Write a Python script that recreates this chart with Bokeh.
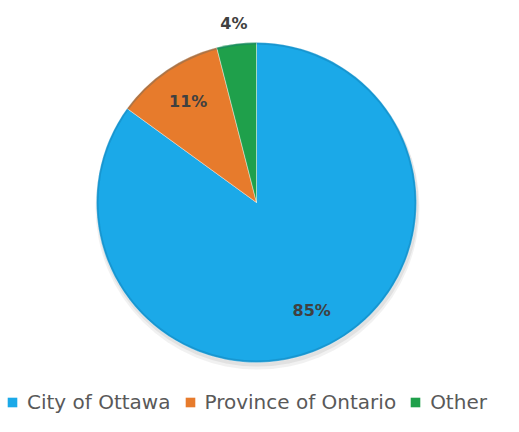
import math
from bokeh.plotting import figure
from bokeh.models import Range1d, ColumnDataSource, Legend, LegendItem
from bokeh.core.properties import value
from bokeh.embed import file_html
from bokeh.resources import INLINE

categories = ["City of Ottawa", "Province of Ontario", "Other"]
shares = [85, 11, 4]
labels = ["85%", "11%", "4%"]
colors = ["#1ba9e8", "#e77b2c", "#1fa04b"]

W, H = 503, 416
p = figure(width=W, height=H, output_backend="svg", toolbar_location=None,
           x_range=Range1d(0, W), y_range=Range1d(0, H), min_border=0,
           outline_line_color=None, background_fill_color="white")
p.axis.visible = False
p.grid.visible = False

cx, cy, R = 256, 214, 160

total = sum(shares)
starts, ends, lx, ly = [], [], [], []
a = math.pi / 2
for s in shares:
    sweep = 2 * math.pi * s / total
    starts.append(a)
    ends.append(a - sweep)
    mid = a - sweep / 2
    rf = 0.76 if s >= 5 else 1.13
    lx.append(cx + rf * R * math.cos(mid))
    ly.append(cy + rf * R * math.sin(mid))
    a -= sweep

src = ColumnDataSource(dict(cat=categories, start=starts, end=ends, color=colors,
                            lab=labels, lx=lx, ly=ly))

# soft shadow
p.circle(x=[cx + 1], y=[cy - 5], radius=R + 2, fill_color="#888888", fill_alpha=0.12, line_color=None)
p.circle(x=[cx + 1], y=[cy - 3], radius=R + 1, fill_color="#777777", fill_alpha=0.12, line_color=None)

wr = p.wedge(x=cx, y=cy, radius=R, start_angle="start", end_angle="end", direction="clock",
             fill_color="color", line_color="white", line_width=0.8, line_alpha=0.5, source=src)

# bevel rim
p.circle(x=[cx], y=[cy], radius=R - 1, fill_color=None, line_color="#0b5f8a",
         line_width=2, line_alpha=0.25)

p.text(x="lx", y="ly", text="lab", source=src, text_align="center", text_baseline="middle",
       text_font=value("DejaVu Sans"), text_font_size="16px", text_font_style="bold",
       text_color="#404040")

# legend swatches: zero-area quads (invisible in the plot) so the swatch fills the glyph box
items = []
for c, col in zip(categories, colors):
    q = p.quad(left=[cx], right=[cx], top=[cy], bottom=[cy], fill_color=col, line_color=None)
    items.append(LegendItem(label=c, renderers=[q]))

legend = Legend(items=items, orientation="horizontal", location=(6, 2),
                label_text_font="DejaVu Sans", label_text_font_size="20px",
                label_text_color="#595959", glyph_width=12, glyph_height=12,
                label_standoff=9, spacing=13, padding=0, margin=0,
                border_line_color=None, background_fill_alpha=0)
p.add_layout(legend, "center")

open("out.html", "w").write(file_html(p, INLINE))
